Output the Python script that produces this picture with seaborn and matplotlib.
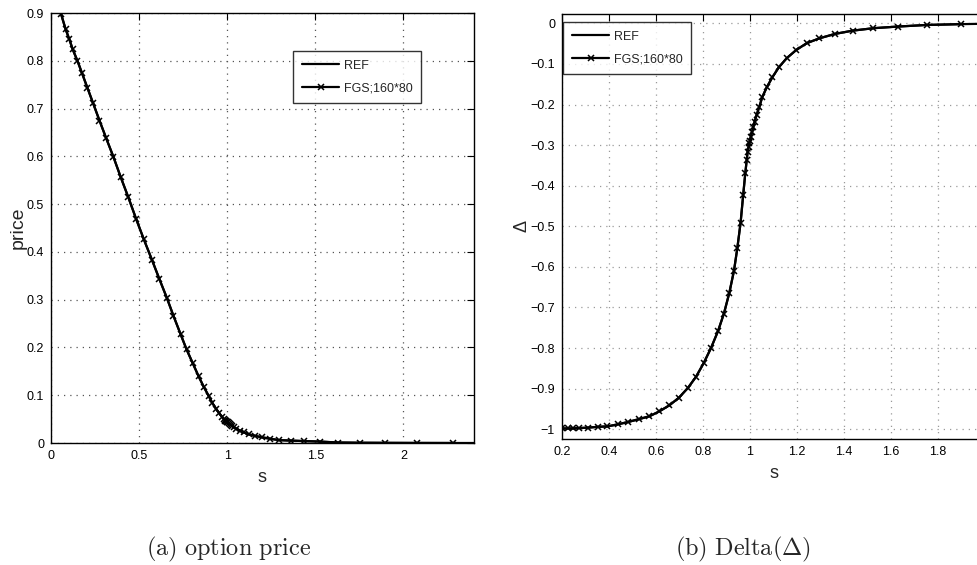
import numpy as np
import pandas as pd
import matplotlib
matplotlib.use("Agg")
import matplotlib.pyplot as plt
from matplotlib import font_manager
from matplotlib.ticker import FuncFormatter, FixedLocator
import seaborn as sns

# ---------------- data ----------------
series_names = ["REF", "FGS;160*80"]

fgs_price_s = [0.057, 0.083, 0.104, 0.123, 0.150, 0.176, 0.206, 0.239, 0.275, 0.313,
               0.354, 0.396, 0.439, 0.483, 0.527, 0.572, 0.614, 0.657, 0.695, 0.735,
               0.769, 0.803, 0.837, 0.866, 0.894, 0.915, 0.936, 0.955, 0.970, 0.980,
               0.986, 0.990, 0.994, 0.997, 1.000, 1.004, 1.009, 1.014, 1.020, 1.028,
               1.040, 1.052, 1.071, 1.095, 1.123, 1.156, 1.196, 1.241, 1.295, 1.362,
               1.437, 1.525, 1.628, 1.752, 1.897, 2.077, 2.282]
fgs_price = [0.898, 0.866, 0.845, 0.824, 0.800, 0.774, 0.744, 0.711, 0.675, 0.638,
             0.599, 0.556, 0.514, 0.469, 0.426, 0.384, 0.344, 0.304, 0.266, 0.228,
             0.196, 0.168, 0.140, 0.118, 0.099, 0.084, 0.072, 0.062, 0.055, 0.051,
             0.049, 0.047, 0.046, 0.045, 0.044, 0.043, 0.041, 0.040, 0.038, 0.036,
             0.033, 0.030, 0.026, 0.022, 0.018, 0.015, 0.012, 0.009, 0.006, 0.005,
             0.004, 0.003, 0.001, 0.0005, 0.0003, 0.0001, 0.0]
ref_price_s = fgs_price_s + [2.40]
ref_price = fgs_price + [0.0]

fgs_delta_s = [0.200, 0.227, 0.248, 0.274, 0.312, 0.352, 0.393, 0.437, 0.482, 0.528,
               0.572, 0.614, 0.657, 0.698, 0.736, 0.770, 0.803, 0.834, 0.864, 0.889,
               0.912, 0.932, 0.946, 0.960, 0.971, 0.980, 0.986, 0.990, 0.994, 0.997,
               1.000, 1.004, 1.009, 1.014, 1.020, 1.028, 1.040, 1.052, 1.071, 1.095,
               1.123, 1.156, 1.196, 1.241, 1.295, 1.362, 1.437, 1.525, 1.628, 1.752,
               1.897]
fgs_delta = [-0.998, -0.998, -0.998, -0.997, -0.996, -0.994, -0.993, -0.988, -0.982, -0.975,
             -0.968, -0.956, -0.941, -0.922, -0.898, -0.871, -0.837, -0.800, -0.758, -0.715,
             -0.664, -0.609, -0.554, -0.491, -0.423, -0.369, -0.337, -0.316, -0.304, -0.296,
             -0.289, -0.279, -0.267, -0.255, -0.242, -0.226, -0.205, -0.182, -0.158, -0.133,
             -0.108, -0.086, -0.066, -0.049, -0.037, -0.026, -0.018, -0.012, -0.008, -0.004,
             -0.002]
ref_delta_s = fgs_delta_s + [2.00]
ref_delta = fgs_delta + [-0.001]

price_xticks = [0, 0.5, 1, 1.5, 2]
price_yticks = [0, 0.1, 0.2, 0.3, 0.4, 0.5, 0.6, 0.7, 0.8, 0.9]
delta_xticks = [0.2, 0.4, 0.6, 0.8, 1.0, 1.2, 1.4, 1.6, 1.8]
delta_yticks = [-1, -0.9, -0.8, -0.7, -0.6, -0.5, -0.4, -0.3, -0.2, -0.1, 0]

captions = [r"$\mathrm{(a)\ option\ price}$", r"$\mathrm{(b)\ Delta(\Delta)}$"]

# ---------------- style ----------------
sns.set_style("white")
installed = {f.name for f in font_manager.fontManager.ttflist}
narrow = "Liberation Sans Narrow" in installed
fam = (["Liberation Sans Narrow"] if narrow else []) + ["Liberation Sans", "DejaVu Sans"]
plt.rcParams["font.family"] = fam
plt.rcParams["mathtext.fontset"] = "cm"
plt.rcParams["axes.unicode_minus"] = True
tick_fs = 10.0 if narrow else 9.0
leg_fs = 10.0 if narrow else 9.0

fig = plt.figure(figsize=(9.77, 5.65), dpi=100)
ax1 = fig.add_axes([51 / 977, 1 - 443 / 565, 423 / 977, 430 / 565])
ax2 = fig.add_axes([562 / 977, 1 - 439 / 565, 423 / 977, 425 / 565])

fmt = FuncFormatter(lambda v, p: ("%g" % round(v, 6)).replace("-", "\u2212"))


def draw(ax, rx, ry, fx, fy, xlim, ylim, xt, yt, grid_color):
    df_ref = pd.DataFrame({"s": rx, "v": ry})
    df_fgs = pd.DataFrame({"s": fx, "v": fy})
    sns.lineplot(data=df_ref, x="s", y="v", ax=ax, color="black", lw=1.6,
                 sort=False, estimator=None, label=series_names[0])
    sns.lineplot(data=df_fgs, x="s", y="v", ax=ax, color="black", lw=1.6,
                 marker="x", markersize=4.5, markeredgewidth=1.1,
                 markeredgecolor="black", markerfacecolor="black",
                 sort=False, estimator=None, label=series_names[1])
    ax.set_xlim(*xlim)
    ax.set_ylim(*ylim)
    ax.xaxis.set_major_locator(FixedLocator(xt))
    ax.yaxis.set_major_locator(FixedLocator(yt))
    ax.xaxis.set_major_formatter(fmt)
    ax.yaxis.set_major_formatter(fmt)
    ax.tick_params(direction="in", length=5, width=0.8, top=True, right=True,
                   labelsize=tick_fs, pad=5, colors="black")
    ax.grid(True, linestyle=(0, (1, 4)), color=grid_color, linewidth=0.9)
    for sp in ax.spines.values():
        sp.set_visible(True)
        sp.set_color("black")
        sp.set_linewidth(1.0)
    ax.set_xlabel("s", fontsize=13, labelpad=5)


def style_legend(ax, x0, y0):
    leg = ax.legend(loc="upper left", bbox_to_anchor=(x0, y0),
                    frameon=True, fancybox=False, edgecolor="black", fontsize=leg_fs,
                    handlelength=3.0, handletextpad=0.35, borderpad=0.7, labelspacing=0.85,
                    borderaxespad=0.0)
    leg.get_frame().set_linewidth(1.0)
    return leg


draw(ax1, ref_price_s, ref_price, fgs_price_s, fgs_price,
     (0, 2.4), (0, 0.9), price_xticks, price_yticks, "#555555")
ax1.set_ylabel("price", fontsize=14, labelpad=0)
style_legend(ax1, (293 - 51) / 423, 1 - (51 - 13) / 430)

draw(ax2, ref_delta_s, ref_delta, fgs_delta_s, fgs_delta,
     (0.2, 2.0), (-1.024, 0.023), delta_xticks, delta_yticks, "#9a9a9a")
ax2.set_ylabel("\u0394", fontsize=13, labelpad=0)
style_legend(ax2, (563 - 562) / 423, 1 - (22 - 14) / 425)

fig.text(229 / 977, 1 - 555 / 565, captions[0], fontsize=17.5, ha="center", va="baseline")
fig.text(743 / 977, 1 - 555 / 565, captions[1], fontsize=17.5, ha="center", va="baseline")

fig.savefig("out.png", dpi=100, facecolor="white")
